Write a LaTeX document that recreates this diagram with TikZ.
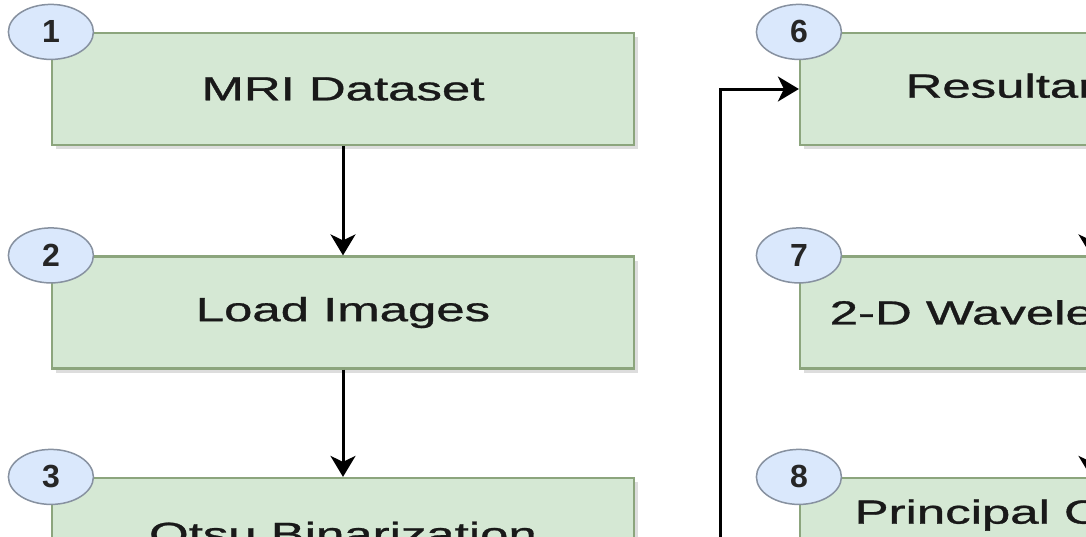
\documentclass[tikz,border=0pt]{standalone}
\usepackage{fontspec}
\setmainfont{Liberation Sans}
\newfontfamily\heavyfont[FakeBold=0.8]{Liberation Sans}
\usetikzlibrary{arrows.meta,shadows,shapes.geometric}
\definecolor{boxfill}{HTML}{D5E8D4}
\definecolor{boxdraw}{RGB}{140,165,125}
\definecolor{numfill}{HTML}{DAE8FC}
\definecolor{numdraw}{RGB}{135,145,160}
\tikzset{
  stepbox/.style={draw=boxdraw, fill=boxfill, line width=2.2pt, minimum width=582pt, minimum height=112pt,
    inner sep=0pt, align=center, text=black!90, font=\heavyfont\fontsize{33.5}{38}\selectfont,
    drop shadow={shadow xshift=4pt, shadow yshift=-4pt, opacity=0.22, fill=black!60}},
  numbadge/.style={ellipse, draw=numdraw, fill=numfill, line width=1.5pt, minimum width=85pt, minimum height=55pt,
    inner sep=0pt, text=black!85, font=\bfseries\fontsize{32}{32}\selectfont},
  flowarrow/.style={line width=3pt, -{Stealth[length=21pt, width=25pt, inset=6pt]}}
}
\newcommand{\wide}[1]{\scalebox{1.52}[1]{#1}}
\begin{document}
\begin{tikzpicture}[x=1pt, y=-1pt]
\useasboundingbox (0,0) rectangle (1086,536);
\clip (0,0) rectangle (1086,536);
\fill[white] (0,0) rectangle (1086,536);
% left column
\node[stepbox] (b1) at (343,89) {\wide{MRI Dataset}};
\node[stepbox] (b2) at (343,312.5) {\wide{Load Images}};
\node[stepbox] (b3) at (343,534) {\wide{Otsu Binarization}};
% right column
\node[stepbox] (b6) at (1091,89) {\wide{Resultant Image}};
\node[stepbox] (b7) at (1091,312.5) {\wide{2-D Wavelet Transform}};
\node[stepbox] (b8) at (1091,534) {\wide{Principal Component}\\\wide{Analysis}};
% badges
\node[numbadge] (n1) at (b1.north west) {1};
\node[numbadge] (n2) at (b2.north west) {2};
\node[numbadge] (n3) at (b3.north west) {3};
\node[numbadge] (n6) at (b6.north west) {6};
\node[numbadge] (n7) at (b7.north west) {7};
\node[numbadge] (n8) at (b8.north west) {8};
% connectors
\draw[flowarrow] (b1.south) -- (b2.north);
\draw[flowarrow] (b2.south) -- (b3.north);
\draw[flowarrow] (b6.south) -- (b7.north);
\draw[flowarrow] (b7.south) -- (b8.north);
\coordinate (fb) at (720,600);
\draw[flowarrow] (fb) |- (b6.west);
\end{tikzpicture}
\end{document}
